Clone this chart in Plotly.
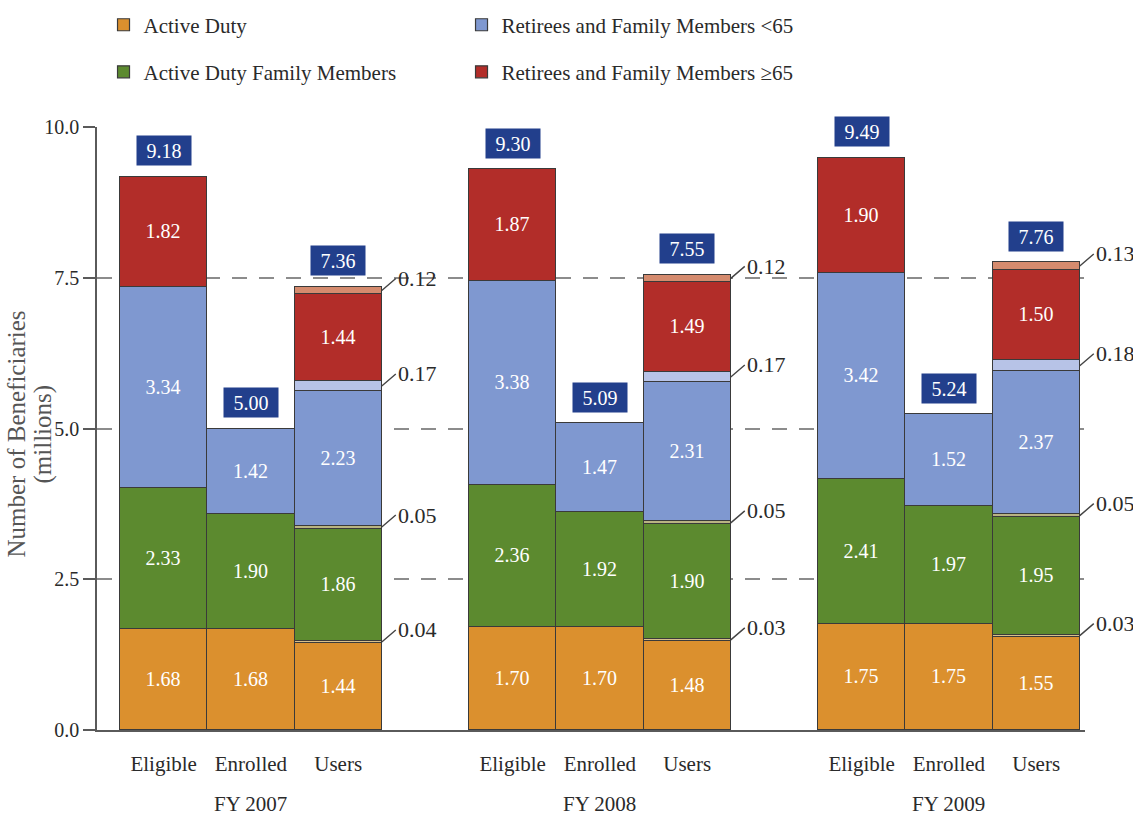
import plotly.graph_objects as go

# ---------------- data ----------------
group_labels = ["FY 2007", "FY 2008", "FY 2009"]
bar_labels = ["Eligible", "Enrolled", "Users"] * 3
positions = [0, 1, 2, 4, 5, 6, 8, 9, 10]

active_duty = [1.68, 1.68, 1.44, 1.70, 1.70, 1.48, 1.75, 1.75, 1.55]
active_duty_extra = [None, None, 0.04, None, None, 0.03, None, None, 0.03]
ad_family = [2.33, 1.90, 1.86, 2.36, 1.92, 1.90, 2.41, 1.97, 1.95]
ad_family_extra = [None, None, 0.05, None, None, 0.05, None, None, 0.05]
ret_lt65 = [3.34, 1.42, 2.23, 3.38, 1.47, 2.31, 3.42, 1.52, 2.37]
ret_lt65_extra = [None, None, 0.17, None, None, 0.17, None, None, 0.18]
ret_ge65 = [1.82, None, 1.44, 1.87, None, 1.49, 1.90, None, 1.50]
ret_ge65_extra = [None, None, 0.12, None, None, 0.12, None, None, 0.13]
totals = [9.18, 5.00, 7.36, 9.30, 5.09, 7.55, 9.49, 5.24, 7.76]
y_title_lines = ["Number of Beneficiaries", "(millions)"]

FONT = "Liberation Serif, Times New Roman, serif"
C_AD, C_AD_X = "#DB902E", "#D9C08C"
C_ADFM, C_ADFM_X = "#5C8A2F", "#B9B482"
C_LT, C_LT_X = "#7F98D0", "#B7C3E7"
C_GE, C_GE_X = "#B22D29", "#D58B6E"
EDGE = "#3a3a3a"


def fmt(vals):
    return ["" if v is None else f"{v:.2f}" for v in vals]


def z(v):
    return 0 if v is None else v


fig = go.Figure()

series = [
    ("Active Duty", active_duty, C_AD, "legend", True),
    ("Active Duty (other)", active_duty_extra, C_AD_X, None, False),
    ("Active Duty Family Members", ad_family, C_ADFM, "legend2", True),
    ("ADFM (other)", ad_family_extra, C_ADFM_X, None, False),
    ("Retirees and Family Members <65", ret_lt65, C_LT, "legend", True),
    ("Ret <65 (other)", ret_lt65_extra, C_LT_X, None, False),
    ("Retirees and Family Members \u226565", ret_ge65, C_GE, "legend2", True),
    ("Ret \u226565 (other)", ret_ge65_extra, C_GE_X, None, False),
]

for name, vals, color, leg, main in series:
    kw = dict(
        x=positions, y=vals, name=name, width=1.0,
        marker=dict(color=color, line=dict(color=EDGE, width=1.2)),
        showlegend=main, hoverinfo="name+y",
    )
    if leg:
        kw["legend"] = leg
    if main:
        kw.update(text=fmt(vals), textposition="inside", insidetextanchor="middle",
                  textangle=0, textfont=dict(family=FONT, size=20, color="white"))
    else:
        kw.update(textposition="none")
    fig.add_trace(go.Bar(**kw))

annotations = []
# totals
for p, t in zip(positions, totals):
    annotations.append(dict(
        x=p, y=t, xref="x", yref="y", text=f"{t:.2f}", showarrow=False,
        yshift=26, bgcolor="#223F8C", width=50, height=25, borderpad=2,
        font=dict(family=FONT, size=20, color="white"),
    ))

# small-slice callouts on Users bars
for i, p in enumerate(positions):
    if active_duty_extra[i] is None:
        continue
    b0 = z(active_duty[i])
    b1 = b0 + z(active_duty_extra[i])
    b2 = b1 + z(ad_family[i])
    b3 = b2 + z(ad_family_extra[i])
    b4 = b3 + z(ret_lt65[i])
    b5 = b4 + z(ret_lt65_extra[i])
    b6 = b5 + z(ret_ge65[i])
    for lo, val in [(b0, active_duty_extra[i]), (b2, ad_family_extra[i]),
                    (b4, ret_lt65_extra[i]), (b6, ret_ge65_extra[i])]:
        annotations.append(dict(
            x=p + 0.5, y=lo + val / 2, xref="x", yref="y",
            text=f"{val:.2f}", showarrow=True, arrowhead=0, arrowwidth=1.4,
            arrowcolor="#444", ax=14, ay=-12, xanchor="left", yanchor="middle",
            standoff=0, startstandoff=0,
            font=dict(family=FONT, size=22, color="#2a2a2a"),
        ))

# group labels
for g, gl in enumerate(group_labels):
    annotations.append(dict(
        x=positions[g * 3 + 1], y=-0.122, xref="x", yref="paper", text=gl,
        showarrow=False, yanchor="middle",
        font=dict(family=FONT, size=21, color="#2a2a2a"),
    ))

# y-axis title (two rotated lines)
for line, xpx in zip(y_title_lines, [17, 43]):
    annotations.append(dict(
        x=(xpx - 97) / 988, y=0.49, xref="paper", yref="paper", text=line,
        textangle=-90, showarrow=False, xanchor="center", yanchor="middle",
        font=dict(family=FONT, size=25, color="#555555"),
    ))

fig.update_layout(
    width=1133, height=818,
    margin=dict(l=97, r=48, t=127, b=88, autoexpand=False),
    barmode="stack", bargap=0,
    plot_bgcolor="white", paper_bgcolor="white",
    font=dict(family=FONT, size=20, color="#2a2a2a"),
    annotations=annotations,
    legend=dict(orientation="h", x=0.0066, y=1.169, xanchor="left", yanchor="middle",
                entrywidth=313, entrywidthmode="pixels", traceorder="normal",
                font=dict(family=FONT, size=21, color="#2a2a2a"),
                bgcolor="rgba(0,0,0,0)"),
    legend2=dict(orientation="h", x=0.0066, y=1.091, xanchor="left", yanchor="middle",
                 entrywidth=313, entrywidthmode="pixels", traceorder="normal",
                 font=dict(family=FONT, size=21, color="#2a2a2a"),
                 bgcolor="rgba(0,0,0,0)"),
    xaxis=dict(
        range=[-0.764, 10.56], tickvals=positions, ticktext=bar_labels,
        showline=True, linecolor="#5a5a5a", linewidth=1.5,
        ticks="outside", ticklen=14, tickcolor="rgba(0,0,0,0)",
        showgrid=False, zeroline=False, automargin=False,
        tickfont=dict(family=FONT, size=21, color="#2a2a2a"),
    ),
    yaxis=dict(
        range=[0, 10], tickvals=[0, 2.5, 5, 7.5, 10], tickformat=".1f",
        showline=True, linecolor="#5a5a5a", linewidth=1.5,
        ticks="outside", ticklen=12, tickcolor="#5a5a5a", tickwidth=1.5,
        showgrid=True, gridcolor="#8c8c8c", gridwidth=1.5, griddash="15px,12px",
        zeroline=False, automargin=False,
        tickfont=dict(family=FONT, size=20, color="#2a2a2a"),
    ),
)

fig.write_html("out.html")
